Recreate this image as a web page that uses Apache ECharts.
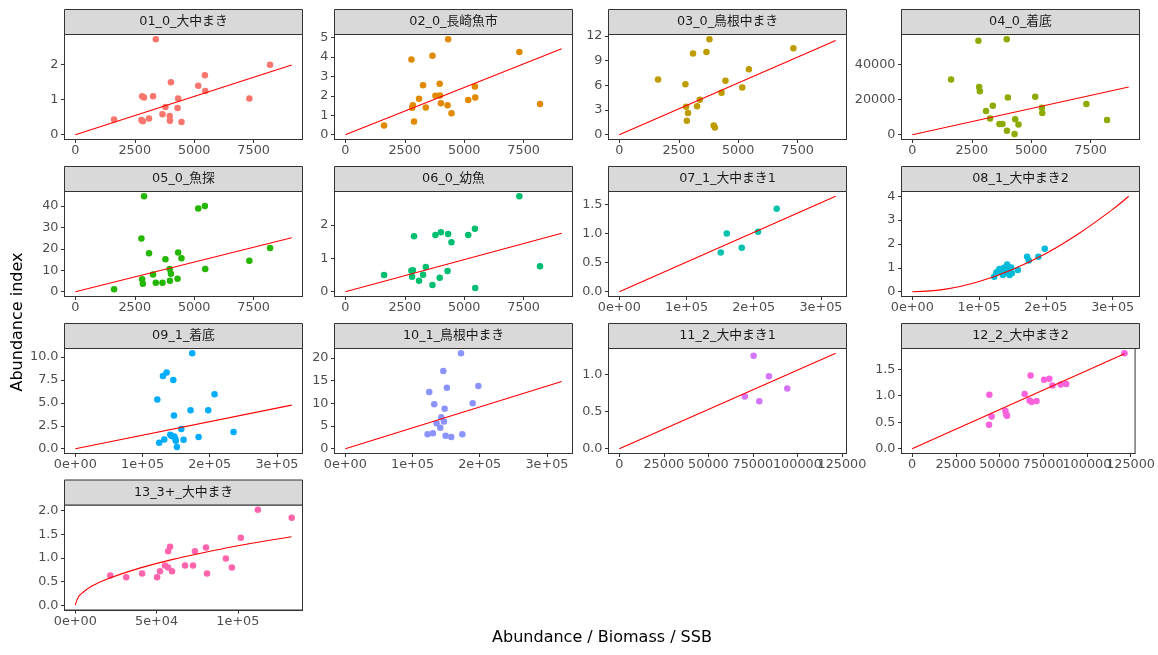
<!DOCTYPE html>
<html><head><meta charset="utf-8">
<script src="https://cdn.jsdelivr.net/npm/echarts@6/dist/echarts.min.js"></script>
<style>html,body{margin:0;padding:0;background:#fff}#c{width:1158px;height:655px}</style>
</head><body><div id="c"></div>
<script>
const panelTitles = ['01_0_大中まき','02_0_長崎魚市','03_0_鳥根中まき','04_0_着底','05_0_魚探','06_0_幼魚','07_1_大中まき1','08_1_大中まき2','09_1_着底','10_1_鳥根中まき','11_2_大中まき1','12_2_大中まき2','13_3+_大中まき'];
const pointColors = ['#F8766D','#E18A00','#BE9C00','#8CAB00','#24B700','#00BE70','#00C1AB','#00BBDA','#00ACFC','#8B93FF','#D575FE','#F962DD','#FF65AC'];

const d01 = [[1630,0.43],[2780,0.42],[2810,1.09],[2840,0.38],[2890,1.06],[3100,0.46],[3270,1.09],[3385,2.71],[3665,0.58],[3790,0.79],[3970,0.53],[3980,0.40],[4020,1.49],[4300,0.76],[4325,1.03],[4465,0.36],[5170,1.39],[5450,1.69],[5465,1.24],[7320,1.03],[8190,1.99]];
const d02 = [[1630,0.48],[2780,3.87],[2810,1.39],[2840,1.51],[2890,0.68],[3100,1.85],[3270,2.55],[3385,1.40],[3665,4.06],[3790,2.00],[3970,2.62],[3980,2.02],[4020,1.62],[4300,1.51],[4325,4.91],[4465,1.10],[5170,1.78],[5450,2.48],[5465,1.92],[7320,4.25],[8190,1.58]];
const d03 = [[1630,6.71],[2780,6.14],[2810,3.40],[2840,1.70],[2890,2.63],[3100,9.86],[3270,3.47],[3385,4.24],[3665,10.06],[3790,11.6],[3970,1.13],[4020,0.89],[4300,5.09],[4465,6.55],[5170,5.74],[5450,7.96],[7320,10.5]];
const d04 = [[1630,31600],[2780,53700],[2810,27200],[2840,24800],[3100,13500],[3270,9300],[3385,16600],[3665,6100],[3790,6100],[3970,54500],[4020,21300],[3980,2300],[4300,400],[4325,8800],[4465,5900],[5170,21700],[5450,15400],[5465,12400],[7320,17500],[8190,8400]];
const d05 = [[1630,1.1],[2780,24.9],[2810,5.8],[2840,3.7],[2890,44.6],[3100,18.0],[3270,8.1],[3385,4.2],[3665,4.2],[3790,15.2],[3970,10.6],[3980,5.1],[4020,8.4],[4300,6.1],[4325,18.3],[4465,15.7],[5170,38.9],[5450,40.1],[5465,10.6],[7320,14.5],[8190,20.4]];
const d06 = [[1630,0.50],[2780,0.63],[2810,0.45],[2840,0.64],[2890,1.66],[3100,0.33],[3270,0.51],[3385,0.74],[3665,0.20],[3790,1.70],[3970,0.42],[4020,1.78],[4300,0.62],[4325,1.73],[4465,1.48],[5170,1.70],[5450,1.89],[5465,0.11],[7320,2.86],[8190,0.76]];
const d07 = [[151000,0.675],[159900,1.00],[182200,0.755],[206400,1.03],[234200,1.425]];
const d08 = [[122600,0.63],[125600,0.80],[128000,0.85],[130500,0.95],[134000,0.87],[135500,0.70],[137000,1.0],[139500,0.80],[140500,1.02],[142000,1.14],[143500,0.91],[144500,0.84],[145500,0.70],[148000,1.02],[149000,0.77],[158000,0.91],[171900,1.47],[174400,1.31],[188800,1.47],[198300,1.80]];
const d09 = [[122000,5.36],[124900,0.65],[130400,7.93],[132400,1.01],[135900,8.30],[141300,1.52],[143500,1.38],[145800,7.50],[146800,3.62],[147200,1.34],[148700,1.09],[149500,0.87],[151200,0.18],[157700,2.14],[161100,0.98],[171500,4.20],[174000,10.4],[183400,1.27],[197800,4.20],[207200,5.94],[235500,1.81]];
const d10 = [[122400,3.2],[124900,12.5],[130300,3.4],[132300,9.8],[135800,5.6],[141300,4.6],[142800,6.9],[145800,17.1],[146800,6.0],[147800,8.8],[149300,2.85],[151200,13.4],[157700,2.6],[172100,21.0],[174100,3.2],[189500,10.0],[198000,13.8]];
const d11 = [[70500,0.707],[75400,1.257],[78600,0.64],[84000,0.98],[94300,0.815]];
const d12 = [[44000,0.45],[44200,1.02],[45500,0.61],[53400,0.71],[53900,0.64],[54300,0.62],[64400,1.03],[67200,0.91],[67800,1.38],[68400,0.88],[71200,0.90],[75500,1.30],[78500,1.32],[80300,1.19],[85000,1.21],[88200,1.22],[121500,1.80]];
const d13 = [[21500,0.63],[31300,0.59],[41100,0.67],[50300,0.59],[52100,0.72],[55200,0.84],[57100,1.14],[58300,1.24],[59500,0.72],[57100,0.80],[67500,0.84],[73600,1.14],[72400,0.84],[80400,1.22],[81000,0.67],[92600,0.99],[96300,0.80],[101800,1.43],[112300,2.02],[133100,1.85]];

const fit01 = [[0,0],[9100,1.98]];
const fit02 = [[0,0],[9100,4.42]];
const fit03 = [[0,0],[9100,11.45]];
const fit04 = [[0,0],[9100,27300]];
const fit05 = [[0,0],[9100,25.2]];
const fit06 = [[0,0],[9100,1.75]];
const fit07 = [[0,0],[322000,1.64]];
const fit08 = [[0,0],[50000,0.11],[100000,0.43],[150000,0.93],[200000,1.6],[250000,2.45],[300000,3.45],[324000,4.0]];
const fit09 = [[0,0],[322000,4.75]];
const fit10 = [[0,0],[322000,14.8]];
const fit11 = [[0,0],[121500,1.29]];
const fit12 = [[0,0],[121500,1.79]];
const fit13 = [[0,0],[2000,0.18],[5000,0.28],[10000,0.40],[20000,0.56],[40000,0.79],[60000,0.97],[80000,1.12],[100000,1.26],[133000,1.45]];

const xTicksSSB = [0,2500,5000,7500];
const xTicks1 = [0,100000,200000,300000];
const xLabels1 = ['0e+00','1e+05','2e+05','3e+05'];
const xTicks2 = [0,25000,50000,75000,100000,125000];
const xTicks3 = [0,50000,100000];
const xLabels3 = ['0e+00','5e+04','1e+05'];

const yTicks01 = [0,1,2];
const yTicks02 = [0,1,2,3,4,5];
const yTicks03 = [0,3,6,9,12];
const yTicks04 = [0,20000,40000];
const yTicks05 = [0,10,20,30,40];
const yTicks06 = [0,1,2];
const yTicks07 = [0,0.5,1,1.5]; const yLabels07 = ['0.0','0.5','1.0','1.5'];
const yTicks08 = [0,1,2,3,4];
const yTicks09 = [0,2.5,5,7.5,10]; const yLabels09 = ['0.0','2.5','5.0','7.5','10.0'];
const yTicks10 = [0,5,10,15,20];
const yTicks11 = [0,0.5,1]; const yLabels11 = ['0.0','0.5','1.0'];
const yTicks12 = [0,0.5,1,1.5]; const yLabels12 = ['0.0','0.5','1.0','1.5'];
const yTicks13 = [0,0.5,1,1.5,2]; const yLabels13 = ['0.0','0.5','1.0','1.5','2.0'];

const panels = [
  {d:d01,f:fit01,xt:xTicksSSB,yt:yTicks01},
  {d:d02,f:fit02,xt:xTicksSSB,yt:yTicks02},
  {d:d03,f:fit03,xt:xTicksSSB,yt:yTicks03},
  {d:d04,f:fit04,xt:xTicksSSB,yt:yTicks04},
  {d:d05,f:fit05,xt:xTicksSSB,yt:yTicks05},
  {d:d06,f:fit06,xt:xTicksSSB,yt:yTicks06},
  {d:d07,f:fit07,xt:xTicks1,xl:xLabels1,yt:yTicks07,yl:yLabels07},
  {d:d08,f:fit08,xt:xTicks1,xl:xLabels1,yt:yTicks08,smooth:true},
  {d:d09,f:fit09,xt:xTicks1,xl:xLabels1,yt:yTicks09,yl:yLabels09},
  {d:d10,f:fit10,xt:xTicks1,xl:xLabels1,yt:yTicks10},
  {d:d11,f:fit11,xt:xTicks2,yt:yTicks11,yl:yLabels11,split:true},
  {d:d12,f:fit12,xt:xTicks2,yt:yTicks12,yl:yLabels12,split:true},
  {d:d13,f:fit13,xt:xTicks3,xl:xLabels3,yt:yTicks13,yl:yLabels13,smooth:true}
];

const FONT = "'DejaVu Sans','Noto Sans CJK JP',sans-serif";
const colLeft = [64.5, 334.5, 608.5, 901.5];
const rowTop = [34.5, 191.5, 348.5, 505];
const PW = 238, PH = 105, SH = 25;

const grids = [], xAxes = [], yAxes = [], series = [], graphics = [];
function lab(ticks, labels) {
  return v => { if (!labels) return String(v); const i = ticks.findIndex(t => Math.abs(t - v) < 1e-9); return i >= 0 ? labels[i] : String(v); };
}
function expanded(vals) {
  const lo = Math.min.apply(null, vals), hi = Math.max.apply(null, vals);
  return [lo - 0.05 * (hi - lo), hi + 0.05 * (hi - lo)];
}
const labelStyle = {color: '#4D4D4D', fontSize: 12.8, fontFamily: FONT, hideOverlap: false};
panels.forEach((p, i) => {
  const left = colLeft[i % 4], top = rowTop[Math.floor(i / 4)];
  const all = p.d.concat(p.f);
  const xr = expanded(all.map(a => a[0]));
  const yr = expanded(all.map(a => a[1]));
  grids.push({left: left, top: top, width: PW, height: PH, show: true, borderColor: '#333333', borderWidth: 1, backgroundColor: '#ffffff'});
  const xLabelVals = p.split ? p.xt.filter((t, k) => k % 2 === 0) : p.xt;
  const xIdx = xAxes.length;
  xAxes.push({gridIndex: i, type: 'value', min: xr[0], max: xr[1], splitLine: {show: false},
    axisLine: {show: true, onZero: false, lineStyle: {color: '#333333', width: 1}},
    axisTick: {show: true, customValues: p.xt, length: 3.5, lineStyle: {color: '#333333', width: 1}},
    axisLabel: Object.assign({customValues: xLabelVals, formatter: lab(p.xt, p.xl), margin: 5}, labelStyle)});
  if (p.split) {
    xAxes.push({gridIndex: i, type: 'value', position: 'bottom', offset: 0, min: xr[0], max: xr[1], splitLine: {show: false},
      axisLine: {show: false, onZero: false}, axisTick: {show: false},
      axisLabel: Object.assign({customValues: p.xt.filter((t, k) => k % 2 === 1), formatter: lab(p.xt, p.xl), margin: 5}, labelStyle)});
  }
  yAxes.push({gridIndex: i, type: 'value', min: yr[0], max: yr[1], splitLine: {show: false},
    axisLine: {show: true, onZero: false, lineStyle: {color: '#333333', width: 1}},
    axisTick: {show: true, customValues: p.yt, length: 3.5, lineStyle: {color: '#333333', width: 1}},
    axisLabel: Object.assign({customValues: p.yt, formatter: lab(p.yt, p.yl), margin: 6}, labelStyle)});
  series.push({type: 'scatter', xAxisIndex: xIdx, yAxisIndex: i, data: p.d, symbolSize: 6.5,
    itemStyle: {color: pointColors[i], opacity: 1}, emphasis: {disabled: true}, silent: true});
  series.push({type: 'line', xAxisIndex: xIdx, yAxisIndex: i, data: p.f, showSymbol: false, smooth: p.smooth ? 0.4 : false,
    lineStyle: {color: '#FF0000', width: 1.1}, emphasis: {disabled: true}, silent: true, z: 3});
  graphics.push({type: 'rect', shape: {x: left, y: top - SH, width: PW, height: SH},
    style: {fill: '#D9D9D9', stroke: '#333333', lineWidth: 1}, silent: true});
  graphics.push({type: 'text', x: left + PW / 2, y: top - SH / 2,
    style: {text: panelTitles[i], fill: '#1A1A1A', font: '12.8px ' + FONT, textAlign: 'center', textVerticalAlign: 'middle'}, silent: true});
});
graphics.push({type: 'text', x: 602, y: 638, style: {text: 'Abundance / Biomass / SSB', fill: '#000000', font: '16px ' + FONT, textAlign: 'center', textVerticalAlign: 'middle'}, silent: true});
graphics.push({type: 'text', x: 18, y: 322, rotation: Math.PI / 2, style: {text: 'Abundance index', fill: '#000000', font: '16px ' + FONT, textAlign: 'center', textVerticalAlign: 'middle'}, silent: true});

const chart = echarts.init(document.getElementById('c'), null, {renderer: 'canvas'});
chart.setOption({animation: false, backgroundColor: '#ffffff', grid: grids, xAxis: xAxes, yAxis: yAxes, series: series, graphic: graphics});
</script>
</body></html>
